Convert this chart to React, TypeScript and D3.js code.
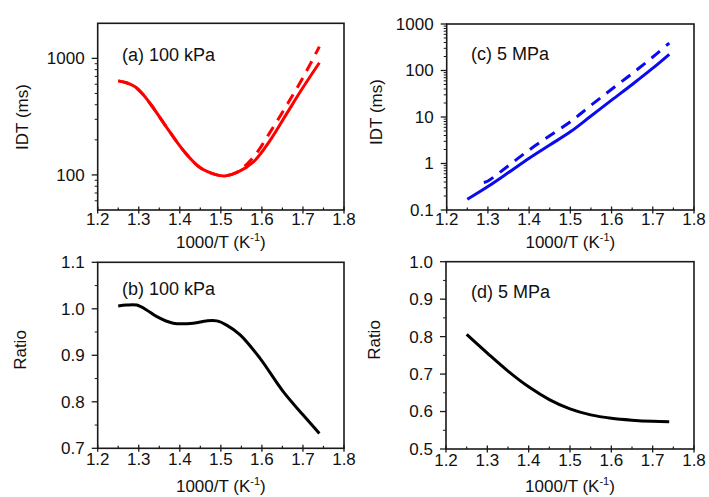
import React from "react";
import * as d3 from "d3";

// ---- data ----
const xTickValues = [1.2, 1.3, 1.4, 1.5, 1.6, 1.7, 1.8];
const xMinorValues = [1.25, 1.35, 1.45, 1.55, 1.65, 1.75];

// (a) 100 kPa IDT (ms)
const aX = [1.25, 1.27, 1.29, 1.31, 1.33, 1.37, 1.41, 1.45, 1.49, 1.51, 1.54, 1.58, 1.62, 1.66, 1.70, 1.74];
const aSolid = [641, 618, 575, 492, 400, 250, 160, 115, 100, 98, 105, 130, 198, 334, 562, 918];
const aDashed = [641, 618, 575, 492, 400, 250, 160, 115, 100, 98, 106, 143, 233, 394, 683, 1260];

// (c) 5 MPa IDT (ms)
const cSolidX = [1.25, 1.3, 1.35, 1.4, 1.45, 1.5, 1.55, 1.6, 1.65, 1.7, 1.74];
const cSolid = [0.17, 0.32, 0.64, 1.3, 2.5, 4.8, 10.5, 23, 50, 112, 223];
const cDashedX = [1.29, 1.3, 1.35, 1.4, 1.45, 1.5, 1.55, 1.6, 1.65, 1.7, 1.74];
const cDashed = [0.39, 0.42, 0.9, 1.95, 3.95, 7.9, 17.8, 39.5, 86, 195, 390];

// (b) 100 kPa ratio
const bX = [1.25, 1.27, 1.295, 1.32, 1.344, 1.384, 1.433, 1.465, 1.49, 1.514, 1.547, 1.595, 1.652, 1.70, 1.74];
const bRatio = [1.006, 1.008, 1.008, 0.997, 0.983, 0.969, 0.969, 0.974, 0.974, 0.965, 0.944, 0.894, 0.822, 0.772, 0.732];

// (d) 5 MPa ratio
const dX = [1.25, 1.3, 1.35, 1.4, 1.45, 1.5, 1.55, 1.6, 1.65, 1.7, 1.74];
const dRatio = [0.806, 0.756, 0.708, 0.666, 0.632, 0.607, 0.591, 0.582, 0.577, 0.574, 0.573];

const aYTicks = [100, 1000];
const cYTicks = [0.1, 1, 10, 100, 1000];
const bYTicks = [0.7, 0.8, 0.9, 1.0, 1.1];
const dYTicks = [0.5, 0.6, 0.7, 0.8, 0.9, 1.0];

const FONT = "Liberation Sans, Arial, sans-serif";

type Series = { xs: number[]; ys: number[]; color: string; dashed?: boolean };

type PanelProps = {
  left: number; right: number; top: number; bottom: number;
  log: boolean; domain: [number, number]; yTicks: number[];
  yFormat: (v: number) => string; yMinor: number[];
  series: Series[]; label: string; yTitle: string; yTitleX: number; yTitleY: number;
  labelX: number; labelY: number; tickLabelDy: number; xTitleY: number;
};

function Panel(p: PanelProps) {
  const x = d3.scaleLinear().domain([1.2, 1.8]).range([p.left, p.right]);
  const y = p.log
    ? d3.scaleLog().domain(p.domain).range([p.bottom, p.top])
    : d3.scaleLinear().domain(p.domain).range([p.bottom, p.top]);
  const cx = (p.left + p.right) / 2;
  return (
    <g>
      {p.series.map((s, i) => {
        const line = d3
          .line<number>()
          .x((_, j) => x(s.xs[j]))
          .y((v) => y(v))
          .curve(d3.curveCatmullRom.alpha(0.5));
        return (
          <path
            key={i}
            d={line(s.ys) || ""}
            fill="none"
            stroke={s.color}
            strokeWidth={3}
            strokeDasharray={s.dashed ? "11,8" : undefined}
            strokeLinecap="butt"
          />
        );
      })}
      {/* frame */}
      <rect x={p.left} y={p.top} width={p.right - p.left} height={p.bottom - p.top}
        fill="none" stroke="#1a1a1a" strokeWidth={1.6} />
      {/* x ticks */}
      {xTickValues.map((t) => (
        <g key={"xt" + t}>
          <line x1={x(t)} x2={x(t)} y1={p.bottom - 3.5} y2={p.bottom + 3.5} stroke="#1a1a1a" strokeWidth={1.3} />
          <text x={x(t)} y={p.bottom + p.tickLabelDy} textAnchor="middle" fontFamily={FONT} fontSize={17} fill="#111">
            {t.toFixed(1)}
          </text>
        </g>
      ))}
      {xMinorValues.map((t) => (
        <line key={"xm" + t} x1={x(t)} x2={x(t)} y1={p.bottom - 2.5} y2={p.bottom} stroke="#1a1a1a" strokeWidth={1.2} />
      ))}
      {/* y ticks */}
      {p.yTicks.map((t) => (
        <g key={"yt" + t}>
          <line x1={p.left - 6} x2={p.left} y1={y(t)} y2={y(t)} stroke="#1a1a1a" strokeWidth={1.3} />
          <text x={p.left - 13} y={y(t)} dy="0.35em" textAnchor="end" fontFamily={FONT} fontSize={17} fill="#111">
            {p.yFormat(t)}
          </text>
        </g>
      ))}
      {p.yMinor.map((t, i) => (
        <line key={"ym" + i} x1={p.left - 3} x2={p.left} y1={y(t)} y2={y(t)} stroke="#1a1a1a" strokeWidth={1} />
      ))}
      {/* panel label */}
      <text x={p.labelX} y={p.labelY} fontFamily={FONT} fontSize={18} fill="#111">{p.label}</text>
      {/* axis titles */}
      <text x={cx} y={p.xTitleY} textAnchor="middle" fontFamily={FONT} fontSize={17} fill="#111">
        1000/T (K<tspan fontSize={11} dy={-7}>-1</tspan><tspan dy={7}>)</tspan>
      </text>
      <text transform={`translate(${p.yTitleX},${p.yTitleY}) rotate(-90)`} textAnchor="middle"
        fontFamily={FONT} fontSize={17} fill="#111">
        {p.yTitle}
      </text>
    </g>
  );
}

function logMinor(lo: number, hi: number): number[] {
  const out: number[] = [];
  for (let e = -2; e <= 4; e++) {
    for (let m = 2; m <= 9; m++) {
      const v = m * Math.pow(10, e);
      if (v > lo * 1.0001 && v < hi * 0.9999) out.push(v);
    }
  }
  return out;
}

function linMinor(ticks: number[]): number[] {
  const out: number[] = [];
  for (let i = 0; i < ticks.length - 1; i++) out.push((ticks[i] + ticks[i + 1]) / 2);
  return out;
}

export default function App() {
  return (
    <svg width={709} height={497} style={{ position: "absolute", left: 0, top: 0, background: "#fff" }}>
      <Panel left={97.7} right={344} top={23.3} bottom={210} log domain={[50, 2000]}
        yTicks={aYTicks} yFormat={(v) => String(v)} yMinor={logMinor(50, 2000)}
        series={[
          { xs: aX, ys: aDashed, color: "#ff0000", dashed: true },
          { xs: aX, ys: aSolid, color: "#ff0000" },
        ]}
        label="(a) 100 kPa" labelX={122} labelY={61} yTitle="IDT (ms)" yTitleX={28} yTitleY={117}
        tickLabelDy={15} xTitleY={248} />
      <Panel left={446.7} right={694} top={24} bottom={210} log domain={[0.1, 1000]}
        yTicks={cYTicks} yFormat={(v) => (v < 1 ? v.toFixed(1) : String(v))} yMinor={logMinor(0.1, 1000)}
        series={[
          { xs: cDashedX, ys: cDashed, color: "#0a0aee", dashed: true },
          { xs: cSolidX, ys: cSolid, color: "#0a0aee" },
        ]}
        label="(c) 5 MPa" labelX={471} labelY={60} yTitle="IDT (ms)" yTitleX={382} yTitleY={112}
        tickLabelDy={15} xTitleY={248} />
      <Panel left={97.7} right={344} top={262.3} bottom={448.3} log={false} domain={[0.7, 1.1]}
        yTicks={bYTicks} yFormat={(v) => v.toFixed(1)} yMinor={linMinor(bYTicks)}
        series={[{ xs: bX, ys: bRatio, color: "#000" }]}
        label="(b) 100 kPa" labelX={122} labelY={295} yTitle="Ratio" yTitleX={26} yTitleY={350}
        tickLabelDy={17} xTitleY={492} />
      <Panel left={446} right={694} top={261.7} bottom={449} log={false} domain={[0.5, 1.0]}
        yTicks={dYTicks} yFormat={(v) => v.toFixed(1)} yMinor={linMinor(dYTicks)}
        series={[{ xs: dX, ys: dRatio, color: "#000" }]}
        label="(d) 5 MPa" labelX={471} labelY={298} yTitle="Ratio" yTitleX={380} yTitleY={340}
        tickLabelDy={17} xTitleY={492} />
    </svg>
  );
}
